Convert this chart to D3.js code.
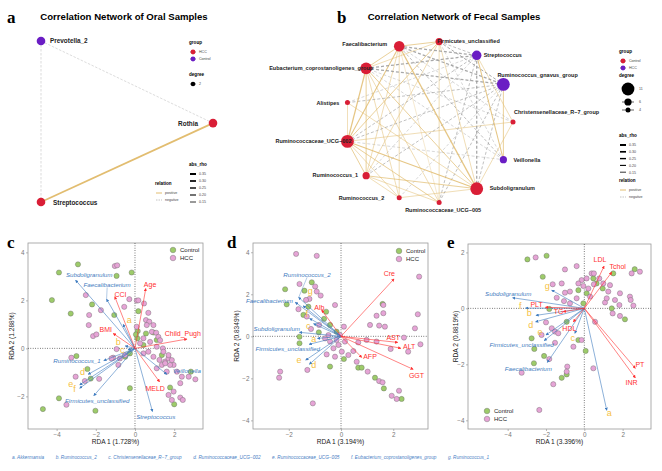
<!DOCTYPE html>
<html>
<head>
<meta charset="utf-8">
<script src="https://cdn.jsdelivr.net/npm/d3@7"></script>
<style>
body { margin: 0; background: #fff; }
text { font-family: "Liberation Sans", Arial, sans-serif; }
</style>
</head>
<body>
<svg id="fig" width="662" height="471"></svg>
<script>
// ---------- network data ----------
var oralNodes = ["Prevotella_2", "Rothia", "Streptococcus"];
var oralGroup = ["Control", "HCC", "HCC"];
var oralLayoutX = [0, 1, 0];
var oralLayoutY = [1, 0.49, 0];
var oralEdges = [["Prevotella_2", "Rothia", -0.15], ["Prevotella_2", "Streptococcus", -0.15], ["Rothia", "Streptococcus", 0.35]];

// circle layout order
var fecalNodes = ["Christensenellaceae_R-7_group", "Veillonella", "Subdoligranulum", "Ruminococcaceae_UCG-005",
  "Ruminococcus_2", "Ruminococcus_1", "Ruminococcaceae_UCG-002", "Alistipes", "Eubacterium_coprostanoligenes_group",
  "Faecalibacterium", "Firmicutes_unclassified", "Streptococcus", "Ruminococcus_gnavus_group"];
var fecalGroup = ["Control", "HCC", "Control", "Control", "Control", "Control", "Control", "Control", "Control",
  "Control", "Control", "HCC", "HCC"];
var fecalDegree = [4, 6, 11, 4, 4, 6, 11, 4, 10, 9, 6, 8, 11];
var fecalEdges = [
  ["Eubacterium_coprostanoligenes_group", "Faecalibacterium", 0.25],
  ["Eubacterium_coprostanoligenes_group", "Firmicutes_unclassified", 0.2],
  ["Faecalibacterium", "Firmicutes_unclassified", 0.25],
  ["Eubacterium_coprostanoligenes_group", "Ruminococcaceae_UCG-002", 0.35],
  ["Eubacterium_coprostanoligenes_group", "Ruminococcus_1", 0.25],
  ["Eubacterium_coprostanoligenes_group", "Ruminococcus_2", 0.2],
  ["Eubacterium_coprostanoligenes_group", "Ruminococcaceae_UCG-005", 0.2],
  ["Eubacterium_coprostanoligenes_group", "Subdoligranulum", 0.25],
  ["Faecalibacterium", "Ruminococcaceae_UCG-002", 0.3],
  ["Faecalibacterium", "Ruminococcus_1", 0.2],
  ["Faecalibacterium", "Subdoligranulum", 0.35],
  ["Faecalibacterium", "Ruminococcus_2", 0.2],
  ["Faecalibacterium", "Ruminococcaceae_UCG-005", 0.15],
  ["Firmicutes_unclassified", "Ruminococcaceae_UCG-002", 0.25],
  ["Firmicutes_unclassified", "Ruminococcus_1", 0.2],
  ["Firmicutes_unclassified", "Ruminococcaceae_UCG-005", 0.2],
  ["Firmicutes_unclassified", "Subdoligranulum", 0.2],
  ["Streptococcus", "Veillonella", 0.3],
  ["Streptococcus", "Christensenellaceae_R-7_group", 0.2],
  ["Ruminococcus_gnavus_group", "Veillonella", 0.25],
  ["Christensenellaceae_R-7_group", "Ruminococcaceae_UCG-002", 0.2],
  ["Christensenellaceae_R-7_group", "Subdoligranulum", 0.2],
  ["Alistipes", "Ruminococcaceae_UCG-002", 0.2],
  ["Alistipes", "Subdoligranulum", 0.2],
  ["Ruminococcaceae_UCG-002", "Ruminococcus_1", 0.25],
  ["Ruminococcaceae_UCG-002", "Ruminococcus_2", 0.2],
  ["Ruminococcaceae_UCG-002", "Ruminococcaceae_UCG-005", 0.25],
  ["Ruminococcaceae_UCG-002", "Subdoligranulum", 0.3],
  ["Ruminococcus_1", "Ruminococcus_2", 0.2],
  ["Ruminococcus_1", "Subdoligranulum", 0.25],
  ["Ruminococcus_1", "Ruminococcaceae_UCG-005", 0.2],
  ["Ruminococcus_2", "Subdoligranulum", 0.2],
  ["Eubacterium_coprostanoligenes_group", "Streptococcus", -0.3],
  ["Eubacterium_coprostanoligenes_group", "Ruminococcus_gnavus_group", -0.3],
  ["Faecalibacterium", "Streptococcus", -0.3],
  ["Faecalibacterium", "Ruminococcus_gnavus_group", -0.3],
  ["Firmicutes_unclassified", "Streptococcus", -0.2],
  ["Firmicutes_unclassified", "Ruminococcus_gnavus_group", -0.25],
  ["Alistipes", "Ruminococcus_gnavus_group", -0.2],
  ["Alistipes", "Streptococcus", -0.15],
  ["Ruminococcaceae_UCG-002", "Ruminococcus_gnavus_group", -0.2],
  ["Ruminococcaceae_UCG-002", "Streptococcus", -0.2],
  ["Ruminococcaceae_UCG-002", "Veillonella", -0.15],
  ["Ruminococcus_1", "Ruminococcus_gnavus_group", -0.2],
  ["Ruminococcus_1", "Streptococcus", -0.15],
  ["Ruminococcus_2", "Ruminococcus_gnavus_group", -0.15],
  ["Ruminococcaceae_UCG-005", "Ruminococcus_gnavus_group", -0.2],
  ["Ruminococcaceae_UCG-005", "Streptococcus", -0.2],
  ["Subdoligranulum", "Streptococcus", -0.3],
  ["Subdoligranulum", "Ruminococcus_gnavus_group", -0.2],
  ["Veillonella", "Faecalibacterium", -0.2],
  ["Veillonella", "Eubacterium_coprostanoligenes_group", -0.15],
  ["Veillonella", "Firmicutes_unclassified", -0.15],
  ["Christensenellaceae_R-7_group", "Faecalibacterium", -0.15],
  ["Christensenellaceae_R-7_group", "Eubacterium_coprostanoligenes_group", -0.15]
];
var rhoLegend = [0.35, 0.30, 0.25, 0.20, 0.15];
var degreeLegend = [11, 6, 4];

// ---------- RDA data ----------
var cControl = [[-2.91,3.50],[-3.88,3.16],[-4.24,2.01],[-3.28,1.45],[-2.19,1.83],[-0.94,3.02],[-0.17,3.16],[-1.06,1.39],[0.17,1.55],[-2.99,-0.32],[-2.43,-0.86],[-2.26,-1.26],[-3.88,-2.08],[-4.70,-2.53],[-2.02,-2.60],[-0.26,-1.66],[2.0,-2.33],[1.79,-1.63],[2.85,-0.97],[-0.26,-0.21],[0.94,0.66],[1.11,0.35],[0.12,0.42],[0.43,0.14],[0.14,0.72],[0.56,0.62],[1.37,-0.28],[0.05,0.58],[-0.5,-0.35]];
var cHCC = [[-1.03,3.43],[-0.91,3.46],[-2.51,2.22],[-1.74,1.59],[-2.34,1.39],[-2.36,0.97],[-2.14,0.51],[-1.97,0.58],[-0.55,1.73],[-0.29,2.05],[0.09,1.99],[1.97,-0.69],[2.14,-0.97],[2.39,-1.18],[2.74,-1.18],[3.08,-1.29],[2.31,-1.45],[1.97,-1.80],[1.71,-1.94],[2.31,-2.05],[2.44,-2.15],[1.88,-2.15],[1.54,-0.55],[1.71,-0.42],[-3.25,-0.39],[-3.03,-1.18],[-2.56,-1.36],[-1.83,-1.27],[-3.50,-2.35],[-0.94,-0.03],[-0.77,-0.42],[-0.51,-0.28],[0.43,-0.21],[0.68,-0.14],[0.94,-0.35],[1.25,-0.48],[1.37,-0.69],[1.11,-0.83],[1.62,-0.97],[-0.85,-0.69],[-1.11,-0.39],[0.17,2.0],[0.46,1.87],[0.68,1.48],[0.56,1.18],[0.73,1.11],[0.94,0.97],[0.6,0.97],[0.86,0.69],[1.08,0.65],[1.19,0.48],[1.28,0.34],[0.43,0.42],[0.26,0.21],[1.42,0],[1.45,-0.14],[1.71,-0.28],[1.88,-0.49],[1.79,-0.69],[1.54,-0.62],[1.11,0.07],[0.77,0.27],[0.09,0.9],[-1.2,-0.42]];
var cEnvNames = ["Age", "CCI", "BMI", "Child_Pugh", "MELD"];
var cEnvX = [0.55, -1.03, -1.11, 2.65, 1.25];
var cEnvY = [2.49, 2.15, 0.62, 0.39, -1.39];
var cEnvLabX = [0.77, -0.74, -1.49, 2.44, 1.03];
var cEnvLabY = [2.66, 2.24, 0.80, 0.60, -1.66];
var cSpNames = ["Subdoligranulum", "Faecalibacterium", "a", "b", "c", "Ruminococcus_1", "d", "e", "f", "Firmicutes_unclassified", "Veillonella", "Streptococcus"];
var cSpX = [-3.03, -1.45, -0.6, -0.5, -0.35, -1.59, -2.39, -2.82, -2.82, -2.10, 1.62, 0.89];
var cSpY = [2.84, 2.05, 1.0, 0.1, -0.05, -0.51, -1.08, -1.52, -1.66, -1.97, -1.08, -2.63];
var cSpLabX = [-2.34, -1.42, -0.29, -0.85, -0.65, -2.96, -2.68, -3.28, -3.09, -1.93, 2.65, 1.06];
var cSpLabY = [3.05, 2.66, 1.2, 0.25, -0.07, -0.51, -0.97, -1.50, -1.70, -2.17, -0.93, -2.84];
var cLead = ["Faecalibacterium"];

var dControl = [[-2.14,2.24],[-2.08,1.52],[-1.44,1.02],[-1.12,2.57],[-1.40,2.17],[-1.25,1.41],[-0.57,1.17],[-0.65,0.83],[-1.59,-0.02],[-1.59,-0.33],[-0.42,-1.44],[0.11,-1.08],[0.66,-1.49],[0.79,-1.49],[1.30,-1.97],[1.64,-2.48],[2.32,-2.98],[1.59,1.54],[-0.17,0.22],[-0.42,0.54],[-0.85,0.19]];
var dHCC = [[-1.72,3.92],[-0.93,3.83],[-1.59,2.49],[-0.99,2.37],[-0.93,2.13],[-0.78,1.94],[-1.21,1.78],[-1.34,1.73],[-0.23,1.49],[0.11,0.46],[-1.63,1.29],[-1.31,0.94],[-1.15,0.35],[-0.84,0.54],[2.99,2.84],[1.62,1.10],[1.36,0.98],[1.11,0.54],[1.46,0.51],[1.68,0.46],[2.94,1.05],[2.83,0.38],[2.41,-0.06],[3.04,-0.38],[2.57,-0.73],[1.90,-0.60],[1.36,-0.25],[0.98,-0.17],[0.66,-0.29],[0.47,-0.70],[0.28,-0.89],[0.60,-1.21],[1.02,-1.68],[1.46,-2.13],[1.59,-2.19],[1.94,-2.83],[2.22,-2.59],[2.13,-2.98],[-2.33,-1.68],[-2.37,-1.97],[-1.29,-1.60],[-1.08,-3.19],[-0.29,-0.57],[-0.10,-0.41],[0.03,-0.73],[0.15,-0.25],[-0.17,-0.17],[-0.42,-0.25],[-0.48,0.06],[-0.61,-0.10],[-0.04,0.06],[-0.23,-0.97],[-0.55,-0.86],[1.62,1.49]];
var dEnvNames = ["Cre", "Alb", "AST", "ALT", "AFP", "GGT"];
var dEnvX = [2.03, -0.74, 2.17, 2.29, 0.79, 2.76];
var dEnvY = [2.73, 1.25, -0.29, -0.57, -1.0, -1.57];
var dEnvLabX = [1.85, -0.83, 2.0, 2.61, 1.11, 2.89];
var dEnvLabY = [3.0, 1.38, -0.06, -0.51, -0.95, -1.87];
var dSpNames = ["Ruminococcus_2", "Faecalibacterium", "g", "f", "c", "Subdoligranulum", "a", "Firmicutes_unclassified", "e", "d"];
var dSpX = [-1.62, -1.75, -1.45, -1.2, -1.05, -1.59, -0.9, -1.22, -1.35, -1.21];
var dSpY = [1.85, 1.62, 1.45, 0.85, 0.6, 0.19, -0.1, -0.38, -1.13, -1.33];
var dSpLabX = [-1.30, -2.74, -1.18, -1.31, -1.25, -2.46, -1.04, -2.04, -1.61, -1.04];
var dSpLabY = [2.95, 1.70, 2.17, 1.05, 0.50, 0.35, -0.14, -0.60, -1.11, -1.38];
var dLead = ["Ruminococcus_2"];

var eControl = [[-2.97,1.75],[-1.97,1.88],[-2.17,1.13],[-2.75,-1.07],[-2.61,-1.45],[-2.63,-1.96],[-2.10,-1.70],[-1.18,-2.48],[-0.92,-2.36],[0.07,-1.52],[-0.31,-1.13],[-0.92,-0.48],[-0.31,0.65],[0.12,0.54],[0.96,0.71],[1.51,1.25],[2.63,1.40],[2.12,-0.39],[1.43,0],[-1.83,-0.02],[-0.05,0.18],[0.47,1.07],[0.64,0.89]];
var eHCC = [[-2.54,1.82],[-1.01,1.39],[-0.40,1.51],[-1.18,0.89],[-1.65,0.86],[-0.75,0.60],[-1.01,0.56],[-1.44,0.38],[-1.06,0.26],[-0.75,0.18],[-2.0,-0.5],[-1.70,-0.71],[-1.53,-0.83],[-1.36,-0.89],[-2.23,-0.95],[-1.53,-1.23],[-0.57,-1.37],[-1.83,-1.81],[-0.89,-2.08],[-0.92,-2.26],[-1.62,-2.71],[-3.27,-2.30],[-2.35,-3.63],[0.47,-2.14],[-0.14,-1.13],[0.56,-0.48],[2.47,1.25],[2.90,1.31],[2.38,0.42],[2.42,0.30],[1.86,0.54],[1.60,0.30],[1.83,0.12],[2.56,0.10],[1.86,-0.27],[1.48,-0.18],[1.08,0.21],[1.17,0.36],[1.34,0.83],[0.99,0.89],[0.78,1.07],[0.38,1.25],[0.50,1.25],[0.12,1.07],[-0.14,1.01],[-0.31,0.89],[-0.05,0.80],[0.21,0.71],[0.50,0.86],[1.25,0.60],[0.30,0.42],[-0.40,0.36]];
var eEnvNames = ["LDL", "Tchol", "PLT", "TG", "HDL", "PT", "INR"];
var eEnvX = [1.03, 1.43, -2.03, -1.1, -0.57, 2.66, 2.66];
var eEnvY = [1.51, 1.29, 0.04, -0.12, -0.48, -2.14, -2.48];
var eEnvLabX = [0.82, 1.74, -2.49, -1.34, -0.78, 2.90, 2.47];
var eEnvLabY = [1.73, 1.49, 0.12, -0.12, -0.71, -2.02, -2.64];
var eSpNames = ["g", "Subdoligranulum", "f", "b", "d", "e", "Firmicutes_unclassified", "c", "Faecalibacterium", "a"];
var eSpX = [-1.70, -3.74, -3.06, -2.52, -2.54, -2.0, -2.09, -0.49, -1.93, 1.17];
var eSpY = [0.65, 0.38, 0.01, -0.25, -0.48, -0.95, -1.15, -0.89, -1.93, -3.64];
var eSpLabX = [-1.93, -3.97, -3.34, -2.87, -2.80, -2.31, -3.27, -0.61, -2.92, 1.30];
var eSpLabY = [0.81, 0.51, 0.07, -0.17, -0.60, -0.86, -1.29, -1.07, -2.17, -3.73];

var captionItems = ["a. Akkermansia", "b. Ruminococcus_2", "c. Christensenellaceae_R\u22127_group", "d. Ruminococcaceae_UCG\u2212002",
  "e. Ruminococcaceae_UCG\u2212005", "f. Eubacterium_coprostanoligenes_group", "g. Ruminococcus_1"];

// ---------- styles ----------
var RED = "#D91E36", PURPLE = "#6A1DC4", POS = "#E2BD70", NEG = "#9a9a9a";
var ENV = "#FF3030", SPC = "#3F7CC0", LET = "#F6C143";
var GREEN = "#9DCB6A", PINK = "#E6A4D6";
var SERIF = "'Liberation Serif', 'Times New Roman', serif";

var svg = d3.select("#fig");
var defs = svg.append("defs");
[["ahRed", ENV], ["ahBlue", SPC]].forEach(function(m) {
  defs.append("marker").attr("id", m[0]).attr("viewBox", "0 0 6 6").attr("refX", 5).attr("refY", 3)
    .attr("markerWidth", 3.2).attr("markerHeight", 3.2).attr("markerUnits", "userSpaceOnUse").attr("orient", "auto")
    .append("path").attr("d", "M0,0L6,3L0,6z").attr("fill", m[1]);
});

function txt(g, x, y, s, size, opt) {
  opt = opt || {};
  var t = g.append("text").attr("x", x).attr("y", y).attr("font-size", size)
    .attr("font-weight", opt.bold ? "bold" : null)
    .attr("font-style", opt.italic ? "italic" : null)
    .attr("text-anchor", opt.anchor || "start")
    .attr("fill", opt.fill || "#000")
    .text(s);
  if (opt.family) t.style("font-family", opt.family);
  return t;
}

// panel letters
[["a", 7, 23], ["b", 337, 23], ["c", 7, 248], ["d", 227, 248], ["e", 447, 248]].forEach(function(p) {
  txt(svg, p[1], p[2], p[0], 17, {bold: true, family: SERIF});
});

var rhoW = d3.scaleLinear().domain([0.15, 0.35]).range([0.5, 1.7]);

function legendRho(g, x, y, gap) {
  txt(g, x, y, "abs_rho", 4.6, {bold: true});
  rhoLegend.forEach(function(r, i) {
    var yy = y + 8 + i * gap;
    g.append("line").attr("x1", x + 1).attr("x2", x + 7).attr("y1", yy).attr("y2", yy)
      .attr("stroke", "#000").attr("stroke-width", rhoW(r) + 0.3);
    txt(g, x + 10, yy + 1.3, r.toFixed(2), 3.6, {fill: "#444"});
  });
}
function legendRel(g, x, y) {
  txt(g, x, y, "relation", 4.6, {bold: true});
  g.append("line").attr("x1", x + 1).attr("x2", x + 7).attr("y1", y + 8).attr("y2", y + 8).attr("stroke", POS).attr("stroke-width", 1);
  txt(g, x + 10, y + 9.3, "positive", 3.6, {fill: "#444"});
  g.append("line").attr("x1", x + 1).attr("x2", x + 7).attr("y1", y + 15).attr("y2", y + 15).attr("stroke", NEG)
    .attr("stroke-width", 0.6).attr("stroke-dasharray", "1.5,1");
  txt(g, x + 10, y + 16.3, "negative", 3.6, {fill: "#444"});
}
function legendGroup(g, x, y, names, cols) {
  txt(g, x, y, "group", 4.6, {bold: true});
  names.forEach(function(n, i) {
    var yy = y + 8 + i * 7;
    g.append("line").attr("x1", x + 1).attr("x2", x + 7).attr("y1", yy).attr("y2", yy).attr("stroke", "#000").attr("stroke-width", 0.5);
    g.append("circle").attr("cx", x + 4).attr("cy", yy).attr("r", 2.4).attr("fill", cols[i]);
    txt(g, x + 10, yy + 1.3, n, 3.6, {fill: "#444"});
  });
}

// ---------- panel a ----------
(function() {
  var g = svg.append("g");
  txt(g, 124, 20, "Correlation Network of Oral Samples", 9.6, {bold: true, anchor: "middle"});
  var x = d3.scaleLinear().domain([0, 1]).range([41, 213]);
  var y = d3.scaleLinear().domain([0, 1]).range([202, 41]);
  var idx = {};
  oralNodes.forEach(function(n, i) { idx[n] = i; });
  oralEdges.forEach(function(e) {
    var a = idx[e[0]], b = idx[e[1]];
    g.append("line").attr("x1", x(oralLayoutX[a])).attr("y1", y(oralLayoutY[a]))
      .attr("x2", x(oralLayoutX[b])).attr("y2", y(oralLayoutY[b]))
      .attr("stroke", e[2] > 0 ? POS : "#c4c4c4")
      .attr("stroke-width", e[2] > 0 ? rhoW(Math.abs(e[2])) : 0.6)
      .attr("stroke-dasharray", e[2] > 0 ? null : "2.5,1.5");
  });
  var col = {HCC: RED, Control: PURPLE};
  oralNodes.forEach(function(n, i) {
    g.append("circle").attr("cx", x(oralLayoutX[i])).attr("cy", y(oralLayoutY[i])).attr("r", 4.3).attr("fill", col[oralGroup[i]]);
  });
  var lab = {"Prevotella_2": [9, 2.2, "start"], "Rothia": [-15, 3.2, "end"], "Streptococcus": [12, 3, "start"]};
  oralNodes.forEach(function(n, i) {
    var l = lab[n];
    txt(g, x(oralLayoutX[i]) + l[0], y(oralLayoutY[i]) + l[1], n, 6.4, {bold: true, anchor: l[2], fill: "#222"});
  });
  legendGroup(g, 189, 44, ["HCC", "Control"], [RED, PURPLE]);
  txt(g, 189, 76, "degree", 4.6, {bold: true});
  g.append("line").attr("x1", 190).attr("x2", 196).attr("y1", 84).attr("y2", 84).attr("stroke", "#000").attr("stroke-width", 0.5);
  g.append("circle").attr("cx", 193).attr("cy", 84).attr("r", 2.3).attr("fill", "#000");
  txt(g, 199, 85.3, "2", 3.6, {fill: "#444"});
  legendRho(g, 189, 166, 7);
  legendRel(g, 155, 185);
})();

// ---------- panel b ----------
(function() {
  var g = svg.append("g");
  txt(g, 454, 20, "Correlation Network of Fecal Samples", 9.6, {bold: true, anchor: "middle"});
  var ang = d3.scaleLinear().domain([0, fecalNodes.length]).range([0, 2 * Math.PI]);
  var cx = 429, cy = 122, rx = 84, ry = 81;
  var px = function(i) { return cx + rx * Math.cos(ang(i)); };
  var py = function(i) { return cy + ry * Math.sin(ang(i)); };
  var idx = {};
  fecalNodes.forEach(function(n, i) { idx[n] = i; });
  var sorted = fecalEdges.slice().sort(function(a, b) { return Math.abs(a[2]) - Math.abs(b[2]); });
  g.append("g").selectAll("line").data(sorted).enter().append("line")
    .attr("x1", function(e) { return px(idx[e[0]]); }).attr("y1", function(e) { return py(idx[e[0]]); })
    .attr("x2", function(e) { return px(idx[e[1]]); }).attr("y2", function(e) { return py(idx[e[1]]); })
    .attr("stroke", function(e) { return e[2] > 0 ? POS : NEG; })
    .attr("stroke-width", function(e) { return rhoW(Math.abs(e[2])) * (e[2] > 0 ? 0.75 : 0.9); })
    .attr("stroke-dasharray", function(e) { return e[2] > 0 ? null : "3,2"; })
    .attr("opacity", 0.85);
  var rad = d3.scaleLinear().domain([4, 11]).range([2.5, 6.4]);
  var col = {Control: RED, HCC: PURPLE};
  fecalNodes.forEach(function(n, i) {
    g.append("circle").attr("cx", px(i)).attr("cy", py(i)).attr("r", rad(fecalDegree[i])).attr("fill", col[fecalGroup[i]]);
  });
  var lab = {
    "Christensenellaceae_R-7_group": [1, -8.5, "start"],
    "Veillonella": [10, 2, "start"],
    "Subdoligranulum": [13, 1, "start"],
    "Ruminococcaceae_UCG-005": [4, 10, "middle"],
    "Ruminococcus_2": [-15, 2, "end"],
    "Ruminococcus_1": [-8, 1.5, "end"],
    "Ruminococcaceae_UCG-002": [4, 2, "end"],
    "Alistipes": [-8, 2, "end"],
    "Eubacterium_coprostanoligenes_group": [7, 2, "end"],
    "Faecalibacterium": [-12, 0, "end"],
    "Firmicutes_unclassified": [-2, 1.5, "start"],
    "Streptococcus": [7, 1.5, "start"],
    "Ruminococcus_gnavus_group": [-6, -7, "start"]
  };
  fecalNodes.forEach(function(n, i) {
    var l = lab[n];
    txt(g, px(i) + l[0], py(i) + l[1], n.replace(/-/g, "\u2212"), 5.5, {bold: true, anchor: l[2], fill: "#222"});
  });
  legendGroup(g, 619, 53, ["Control", "HCC"], [RED, PURPLE]);
  txt(g, 619, 77, "degree", 4.6, {bold: true});
  var dy = [89, 102, 110];
  degreeLegend.forEach(function(d, i) {
    g.append("line").attr("x1", 622).attr("x2", 634).attr("y1", dy[i]).attr("y2", dy[i]).attr("stroke", "#000").attr("stroke-width", 0.6);
    g.append("circle").attr("cx", 628).attr("cy", dy[i]).attr("r", rad(d)).attr("fill", "#000");
    txt(g, 639, dy[i] + 1.3, d, 3.6, {fill: "#444"});
  });
  legendRho(g, 619, 137, 6.8);
  legendRel(g, 619, 182);
})();

// ---------- RDA panels ----------
function drawRDA(o) {
  var g = svg.append("g");
  var x = d3.scaleLinear().domain(o.xd).range([o.l, o.r]);
  var y = d3.scaleLinear().domain(o.yd).range([o.b, o.t]);
  var ax = g.append("g").attr("transform", "translate(0," + o.b + ")")
    .call(d3.axisBottom(x).tickValues(o.xt).tickSize(2).tickPadding(1.5).tickFormat(d3.format("d")));
  var ay = g.append("g").attr("transform", "translate(" + o.l + ",0)")
    .call(d3.axisLeft(y).tickValues(o.yt).tickSize(2).tickPadding(1.5).tickFormat(d3.format("d")));
  [ax, ay].forEach(function(a) {
    a.select(".domain").remove();
    a.selectAll("line").attr("stroke", "#888").attr("stroke-width", 0.6);
    a.selectAll("text").attr("fill", "#777").attr("font-size", 6.3);
  });
  g.append("rect").attr("x", o.l).attr("y", o.t).attr("width", o.r - o.l).attr("height", o.b - o.t)
    .attr("fill", "none").attr("stroke", "#9a9a9a").attr("stroke-width", 0.8);
  g.append("line").attr("x1", x(0)).attr("x2", x(0)).attr("y1", o.t).attr("y2", o.b)
    .attr("stroke", "#333").attr("stroke-width", 0.8).attr("stroke-dasharray", "0.8,1.6");
  g.append("line").attr("x1", o.l).attr("x2", o.r).attr("y1", y(0)).attr("y2", y(0))
    .attr("stroke", "#333").attr("stroke-width", 0.8).attr("stroke-dasharray", "0.8,1.6");
  txt(g, (o.l + o.r) / 2, 444, o.xlab, 6.6, {anchor: "middle", fill: "#222"});
  txt(g, 0, 0, o.ylab, 6.6, {anchor: "middle", fill: "#222"})
    .attr("transform", "translate(" + o.ylx + "," + ((o.t + o.b) / 2) + ") rotate(-90)");

  var pts = g.append("g");
  [[o.ctrl, GREEN], [o.hcc, PINK]].forEach(function(s) {
    pts.selectAll(null).data(s[0]).enter().append("circle")
      .attr("cx", function(d) { return x(d[0]); }).attr("cy", function(d) { return y(d[1]); })
      .attr("r", 2.6).attr("fill", s[1]).attr("stroke", "#666").attr("stroke-width", 0.4);
  });

  // arrows
  o.spN.forEach(function(n, i) {
    g.append("line").attr("x1", x(0)).attr("y1", y(0)).attr("x2", x(o.spX[i])).attr("y2", y(o.spY[i]))
      .attr("stroke", SPC).attr("stroke-width", 0.6).attr("marker-end", "url(#ahBlue)");
  });
  o.envN.forEach(function(n, i) {
    g.append("line").attr("x1", x(0)).attr("y1", y(0)).attr("x2", x(o.envX[i])).attr("y2", y(o.envY[i]))
      .attr("stroke", ENV).attr("stroke-width", 0.6).attr("marker-end", "url(#ahRed)");
  });
  o.spN.forEach(function(n, i) {
    var lx = x(o.spLX[i]), ly = y(o.spLY[i]);
    if (o.lead.indexOf(n) >= 0) {
      g.append("line").attr("x1", lx).attr("y1", ly + 3).attr("x2", x(o.spX[i])).attr("y2", y(o.spY[i]))
        .attr("stroke", SPC).attr("stroke-width", 0.4);
    }
    if (n.length === 1) {
      txt(g, lx, ly + 3, n, 9, {anchor: "middle", fill: LET});
    } else {
      txt(g, lx, ly + 2.2, n, 6.2, {anchor: "middle", fill: SPC, italic: true});
    }
  });
  o.envN.forEach(function(n, i) {
    txt(g, x(o.envLX[i]), y(o.envLY[i]) + 2.4, n, 7, {anchor: "middle", fill: ENV});
  });

  // legend
  ["Control", "HCC"].forEach(function(n, i) {
    var yy = o.legY + i * 8;
    g.append("circle").attr("cx", o.legX).attr("cy", yy).attr("r", 2.8)
      .attr("fill", i ? PINK : GREEN).attr("stroke", "#666").attr("stroke-width", 0.4);
    txt(g, o.legX + 7, yy + 2.1, n, 6, {fill: "#222"});
  });
}

drawRDA({l: 28, r: 203, t: 243, b: 429, xd: [-5.46, 3.47], yd: [-3.36, 4.39], xt: [-4, -2, 0, 2], yt: [-2, 0, 2, 4],
  xlab: "RDA 1 (1.728%)", ylab: "RDA 2 (1.288%)", ylx: 14, ctrl: cControl, hcc: cHCC,
  envN: cEnvNames, envX: cEnvX, envY: cEnvY, envLX: cEnvLabX, envLY: cEnvLabY,
  spN: cSpNames, spX: cSpX, spY: cSpY, spLX: cSpLabX, spLY: cSpLabY, lead: cLead, legX: 173, legY: 250});
drawRDA({l: 253, r: 428, t: 243, b: 429, xd: [-3.37, 3.33], yd: [-4.41, 4.44], xt: [-2, 0, 2], yt: [-4, -2, 0, 2, 4],
  xlab: "RDA 1 (3.194%)", ylab: "RDA 2 (0.8349%)", ylx: 239, ctrl: dControl, hcc: dHCC,
  envN: dEnvNames, envX: dEnvX, envY: dEnvY, envLX: dEnvLabX, envLY: dEnvLabY,
  spN: dSpNames, spX: dSpX, spY: dSpY, spLX: dSpLabX, spLY: dSpLabY, lead: dLead, legX: 399, legY: 251});
drawRDA({l: 468, r: 651, t: 244, b: 429, xd: [-6.07, 3.48], yd: [-4.31, 2.30], xt: [-4, -2, 0, 2], yt: [-4, -2, 0, 2],
  xlab: "RDA 1 (3.396%)", ylab: "RDA 2 (0.8819%)", ylx: 458, ctrl: eControl, hcc: eHCC,
  envN: eEnvNames, envX: eEnvX, envY: eEnvY, envLX: eEnvLabX, envLY: eEnvLabY,
  spN: eSpNames, spX: eSpX, spY: eSpY, spLX: eSpLabX, spLY: eSpLabY, lead: [], legX: 487, legY: 411});

// caption row
(function() {
  var cx = 12;
  captionItems.forEach(function(s) {
    var t = txt(svg, cx, 459, s, 4.7, {fill: "#4A80C5", italic: true});
    cx += t.node().getComputedTextLength() + 11.5;
  });
})();
</script>
</body>
</html>
